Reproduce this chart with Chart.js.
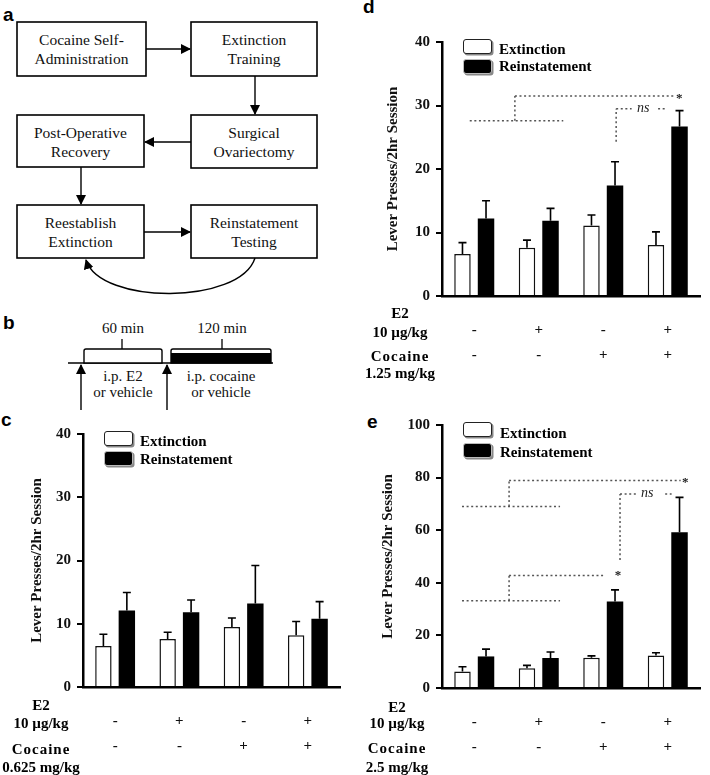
<!DOCTYPE html>
<html lang="en">
<head>
   <meta charset="UTF-8">
   <title>E2 and cocaine reinstatement</title>
   <script src="https://cdn.jsdelivr.net/npm/chart.js"></script>
   <style>
      body {
         margin: 0;
         background: #fff;
      }
      .figure {
         position: relative;
         width: 710px;
         height: 775px;
         overflow: hidden;
         font-family: "Liberation Serif", "Times New Roman", serif;
      }
      .abs { position: absolute; }
      svg text { font-family: "Liberation Serif", "Times New Roman", serif; }
      .letter {
         position: absolute;
         font-family: "Liberation Sans", Arial, sans-serif;
         font-weight: bold;
         font-size: 19px;
         line-height: 20px;
      }
      .rowlab {
         position: absolute;
         width: 96px;
         text-align: center;
         font-weight: bold;
         font-size: 15px;
         line-height: 18px;
         white-space: nowrap;
      }
      .spaced { letter-spacing: 1px; }
      .legend-box {
         position: absolute;
         width: 27px;
         height: 13px;
         border: 1.5px solid #222;
         border-radius: 3px;
         box-shadow: 1.5px 1.5px 0 #888;
      }
      .legend-text {
         position: absolute;
         font-weight: bold;
         font-size: 15px;
         line-height: 18px;
         white-space: nowrap;
      }
      canvas { position: absolute; }
   </style>
</head>
<body>
<div class="figure">

   <!-- a: protocol flow, b: test-day timeline -->
   <svg class="abs" style="left:0;top:0" width="360" height="410">
      <defs>
         <marker id="head" markerWidth="10" markerHeight="10" refX="9" refY="5" orient="auto" markerUnits="userSpaceOnUse">
            <path d="M0,0 L10,5 L0,10 z" fill="#000"/>
         </marker>
      </defs>
      <g fill="#fff" stroke="#000" stroke-width="1.6">
         <rect x="17" y="22" width="129" height="54"/>
         <rect x="191" y="22" width="126" height="54"/>
         <rect x="191" y="115" width="126" height="53"/>
         <rect x="17" y="115" width="127" height="52"/>
         <rect x="17" y="205" width="127" height="53"/>
         <rect x="191" y="205" width="126" height="53"/>
      </g>
      <g font-size="15.5" text-anchor="middle" fill="#111">
         <text x="81.5" y="45">Cocaine Self-</text>
         <text x="81.5" y="64">Administration</text>
         <text x="254" y="45">Extinction</text>
         <text x="254" y="64">Training</text>
         <text x="254" y="138">Surgical</text>
         <text x="254" y="157">Ovariectomy</text>
         <text x="80.5" y="138">Post-Operative</text>
         <text x="80.5" y="157">Recovery</text>
         <text x="80.5" y="228">Reestablish</text>
         <text x="80.5" y="247">Extinction</text>
         <text x="254" y="228">Reinstatement</text>
         <text x="254" y="247">Testing</text>
      </g>
      <g stroke="#000" stroke-width="1.4" fill="none" marker-end="url(#head)">
         <line x1="146" y1="49" x2="190" y2="49"/>
         <line x1="255" y1="76" x2="255" y2="114"/>
         <line x1="191" y1="142" x2="145" y2="142"/>
         <line x1="81" y1="167" x2="81" y2="204"/>
         <line x1="144" y1="232" x2="190" y2="232"/>
         <path d="M255,258 C240,305 100,305 86,260"/>
      </g>

      <!-- timeline -->
      <line x1="68" y1="363" x2="273" y2="363" stroke="#000" stroke-width="1.4"/>
      <path d="M84,363 L84,351 Q84,349 86,349 L160,349 Q162,349 162,351 L162,363 Z" fill="#fff" stroke="#000" stroke-width="1.4"/>
      <path d="M171,363 L171,351 Q171,349 173,349 L269,349 Q271,349 271,351 L271,363 Z" fill="#fff" stroke="#000" stroke-width="1.4"/>
      <rect x="171" y="353" width="100" height="10" fill="#000"/>
      <line x1="122" y1="339" x2="122" y2="349" stroke="#000" stroke-width="1.3"/>
      <line x1="222" y1="339" x2="222" y2="349" stroke="#000" stroke-width="1.3"/>
      <g stroke="#000" stroke-width="1.4" marker-end="url(#head)">
         <line x1="81" y1="410" x2="81" y2="365"/>
         <line x1="167" y1="410" x2="167" y2="365"/>
      </g>
      <g font-size="15" text-anchor="middle" fill="#111">
         <text x="123" y="333">60 min</text>
         <text x="222" y="333">120 min</text>
         <text x="123" y="381">i.p. E2</text>
         <text x="123" y="397">or vehicle</text>
         <text x="221" y="381">i.p. cocaine</text>
         <text x="221" y="397">or vehicle</text>
      </g>
   </svg>

   <div class="letter" style="left:3px;top:5px">a</div>
   <div class="letter" style="left:3px;top:313px">b</div>
   <div class="letter" style="left:1px;top:410px">c</div>
   <div class="letter" style="left:363px;top:-3px">d</div>
   <div class="letter" style="left:367px;top:412px">e</div>

   <canvas id="chartC" width="355" height="375" style="left:0;top:400px"></canvas>
   <canvas id="chartD" width="355" height="390" style="left:355px;top:0"></canvas>
   <canvas id="chartE" width="355" height="385" style="left:355px;top:390px"></canvas>

   <!-- legends -->
   <div class="legend-box" style="left:104px;top:431px;background:#fff"></div>
   <div class="legend-box" style="left:104px;top:451px;background:#000;border-color:#bbb"></div>
   <div class="legend-text" style="left:140px;top:432px">Extinction</div>
   <div class="legend-text" style="left:140px;top:450px">Reinstatement</div>

   <div class="legend-box" style="left:463px;top:39px;background:#fff"></div>
   <div class="legend-box" style="left:463px;top:59px;background:#000;border-color:#bbb"></div>
   <div class="legend-text" style="left:499px;top:40px">Extinction</div>
   <div class="legend-text" style="left:499px;top:57px">Reinstatement</div>

   <div class="legend-box" style="left:463px;top:422px;background:#fff"></div>
   <div class="legend-box" style="left:463px;top:443px;background:#000;border-color:#bbb"></div>
   <div class="legend-text" style="left:500px;top:424px">Extinction</div>
   <div class="legend-text" style="left:500px;top:443px">Reinstatement</div>

   <!-- treatment row labels -->
   <div class="rowlab" style="left:-7px;top:696px">E2</div>
   <div class="rowlab" style="left:-7px;top:714px">10 µg/kg</div>
   <div class="rowlab spaced" style="left:-7px;top:740px">Cocaine</div>
   <div class="rowlab" style="left:-7px;top:758px">0.625 mg/kg</div>

   <div class="rowlab" style="left:352px;top:304px">E2</div>
   <div class="rowlab" style="left:352px;top:323px">10 µg/kg</div>
   <div class="rowlab spaced" style="left:352px;top:347px">Cocaine</div>
   <div class="rowlab" style="left:352px;top:364px">1.25 mg/kg</div>

   <div class="rowlab" style="left:349px;top:698px">E2</div>
   <div class="rowlab" style="left:349px;top:714px">10 µg/kg</div>
   <div class="rowlab spaced" style="left:349px;top:739px">Cocaine</div>
   <div class="rowlab" style="left:349px;top:758px">2.5 mg/kg</div>
</div>

<script>
   // treatment groups (x categories)
   const groups = ["Veh/Veh", "E2/Veh", "Veh/Coc", "E2/Coc"];
   const e2Signs = ["-", "+", "-", "+"];
   const cocaineSigns = ["-", "-", "+", "+"];

   // c: cocaine 0.625 mg/kg
   const extC = [6.5, 7.6, 9.5, 8.2];
   const extSemC = [1.85, 1.05, 1.4, 2.15];
   const reinC = [12.1, 11.8, 13.2, 10.8];
   const reinSemC = [2.85, 1.95, 6.0, 2.7];

   // d: cocaine 1.25 mg/kg
   const extD = [6.6, 7.6, 11.1, 8.05];
   const extSemD = [1.8, 1.2, 1.65, 2.05];
   const reinD = [12.2, 11.85, 17.4, 26.7];
   const reinSemD = [2.8, 1.95, 3.75, 2.5];

   // e: cocaine 2.5 mg/kg
   const extE = [6.3, 7.5, 11.5, 12.4];
   const extSemE = [1.8, 1.1, 0.7, 1.0];
   const reinE = [12.0, 11.4, 32.9, 59.2];
   const reinSemE = [2.8, 2.3, 4.4, 13.3];

   const SERIF = "'Liberation Serif', 'Times New Roman', serif";

   // upward error bars with caps
   const errorBars = {
      id: 'errorBars',
      afterDatasetsDraw(chart) {
         const ctx = chart.ctx;
         const y = chart.scales.y;
         ctx.save();
         ctx.strokeStyle = '#000';
         ctx.lineWidth = 1.6;
         chart.data.datasets.forEach((ds, i) => {
            const meta = chart.getDatasetMeta(i);
            meta.data.forEach((bar, j) => {
               const top = y.getPixelForValue(ds.data[j] + ds.sem[j]);
               ctx.beginPath();
               ctx.moveTo(bar.x, bar.y);
               ctx.lineTo(bar.x, top);
               ctx.moveTo(bar.x - 4, top);
               ctx.lineTo(bar.x + 4, top);
               ctx.stroke();
            });
         });
         ctx.restore();
      }
   };

   // dotted comparison brackets, x in category units
   const brackets = {
      id: 'brackets',
      afterDraw(chart, args, opts) {
         if (!opts.lines) return;
         const ctx = chart.ctx;
         const x = chart.scales.x, y = chart.scales.y;
         ctx.save();
         ctx.strokeStyle = '#555';
         ctx.lineWidth = 1.5;
         ctx.setLineDash([2, 2.6]);
         opts.lines.forEach(l => {
            ctx.beginPath();
            ctx.moveTo(x.getPixelForValue(l[0]), y.getPixelForValue(l[1]));
            ctx.lineTo(x.getPixelForValue(l[2]), y.getPixelForValue(l[3]));
            ctx.stroke();
         });
         ctx.setLineDash([]);
         ctx.fillStyle = '#222';
         ctx.textAlign = 'center';
         ctx.textBaseline = 'middle';
         opts.labels.forEach(t => {
            ctx.font = t.italic ? 'italic 14px ' + SERIF : 'bold 13px ' + SERIF;
            ctx.fillText(t.text, x.getPixelForValue(t.x), y.getPixelForValue(t.y) + (t.italic ? 0 : 3));
         });
         ctx.restore();
      }
   };

   function makeChart(id, ext, extSem, rein, reinSem, o) {
      return new Chart(document.getElementById(id), {
         type: 'bar',
         data: {
            labels: groups,
            datasets: [{
               label: 'Extinction',
               data: ext,
               sem: extSem,
               backgroundColor: '#fff',
               borderColor: '#111',
               borderWidth: 1.5,
               borderSkipped: 'bottom'
            }, {
               label: 'Reinstatement',
               data: rein,
               sem: reinSem,
               backgroundColor: '#000',
               borderColor: '#000',
               borderWidth: 0
            }]
         },
         options: {
            responsive: false,
            animation: false,
            categoryPercentage: 0.73,
            barPercentage: 0.7,
            layout: { padding: { top: o.padTop, right: o.padRight, left: 0, bottom: 0 } },
            plugins: {
               legend: { display: false },
               tooltip: { enabled: false },
               brackets: { lines: o.lines, labels: o.labels }
            },
            scales: {
               x: {
                  grid: { display: false, drawTicks: false },
                  border: { display: true, color: '#000', width: 2.5 },
                  ticks: {
                     color: '#111',
                     padding: 22,
                     font: { family: SERIF, weight: 'bold', size: 15, lineHeight: '25px' },
                     callback: (v, i) => [e2Signs[i], cocaineSigns[i]]
                  },
                  afterFit: s => { s.height = o.xHeight; }
               },
               y: {
                  min: 0,
                  max: o.yMax,
                  ticks: {
                     stepSize: o.step,
                     color: '#111',
                     padding: 6,
                     font: { family: SERIF, weight: 'bold', size: 15 }
                  },
                  grid: { drawOnChartArea: false, drawTicks: true, tickLength: 6, color: '#000', lineWidth: 2 },
                  border: { display: true, color: '#000', width: 2.5 },
                  title: {
                     display: true,
                     text: 'Lever Presses/2hr Session',
                     color: '#111',
                     padding: { top: o.titlePad, bottom: 0 },
                     font: { family: SERIF, weight: 'bold', size: 15 }
                  },
                  afterFit: s => { s.width = o.yWidth; }
               }
            }
         },
         plugins: [errorBars, brackets]
      });
   }

   makeChart('chartC', extC, extSemC, reinC, reinSemC, {
      padTop: 34, padRight: 15, xHeight: 88, yWidth: 83, titlePad: 28,
      yMax: 40, step: 10
   });

   makeChart('chartD', extD, extSemD, reinD, reinSemD, {
      padTop: 42, padRight: 10, xHeight: 94, yWidth: 87, titlePad: 29,
      yMax: 40, step: 10,
      lines: [
         [-0.07, 27.6, 1.38, 27.6],
         [0.63, 27.6, 0.63, 31.5],
         [0.63, 31.5, 3.12, 31.5],
         [2.2, 24.3, 2.2, 29.5],
         [2.2, 29.5, 2.44, 29.5],
         [2.85, 29.5, 2.97, 29.5]
      ],
      labels: [
         { text: '*', x: 3.18, y: 31.5 },
         { text: 'ns', x: 2.62, y: 29.6, italic: true }
      ]
   });

   makeChart('chartE', extE, extSemE, reinE, reinSemE, {
      padTop: 35, padRight: 10, xHeight: 87, yWidth: 87, titlePad: 24,
      yMax: 100, step: 20,
      lines: [
         [-0.19, 33.2, 1.33, 33.2],
         [0.54, 33.2, 0.54, 42.8],
         [0.54, 42.8, 2.03, 42.8],
         [-0.19, 69, 1.33, 69],
         [0.54, 69, 0.54, 78.9],
         [0.54, 78.9, 3.2, 78.9],
         [2.26, 48.7, 2.26, 73.8],
         [2.26, 73.8, 2.52, 73.8],
         [2.96, 73.8, 3.06, 73.8]
      ],
      labels: [
         { text: '*', x: 2.23, y: 43.7 },
         { text: '*', x: 3.27, y: 79.1 },
         { text: 'ns', x: 2.68, y: 74.2, italic: true }
      ]
   });
</script>
</body>
</html>
